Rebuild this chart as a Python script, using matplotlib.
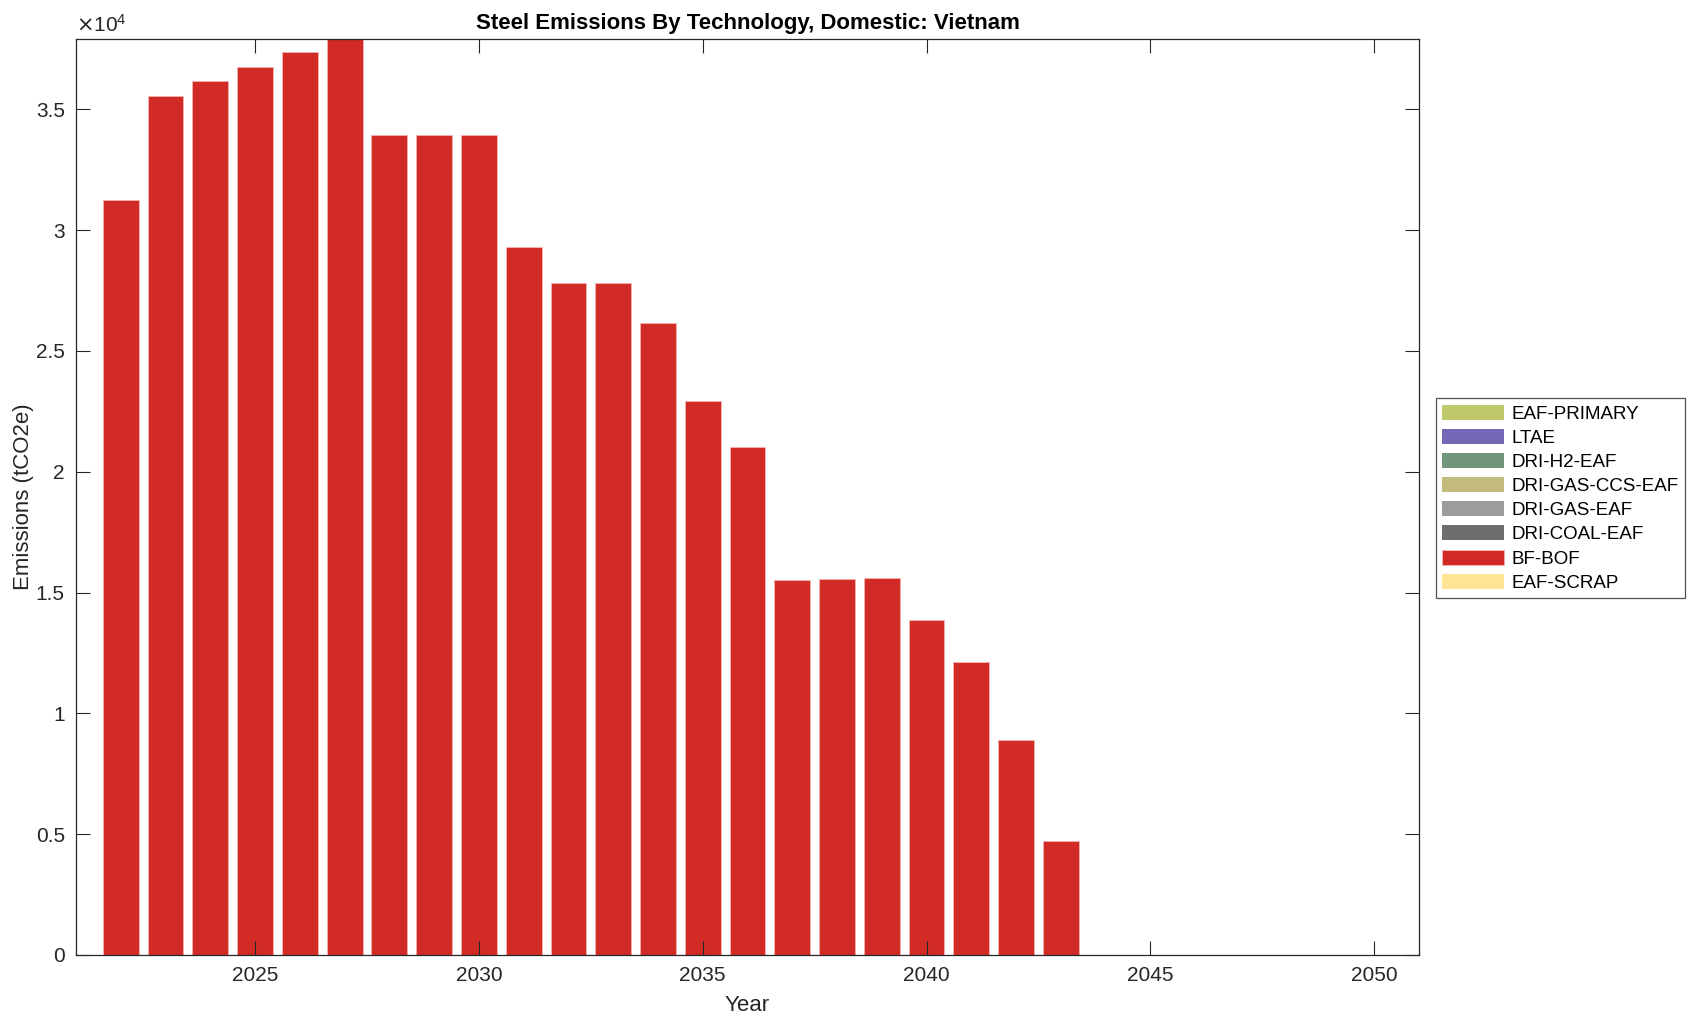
import matplotlib.pyplot as plt
from matplotlib.ticker import FuncFormatter, MultipleLocator
import numpy as np

plt.rcParams['font.family'] = ['Liberation Sans', 'DejaVu Sans']

# Years shown on the x axis
years = list(range(2022, 2051))

# Technologies (legend order, top to bottom)
techs = ["EAF-PRIMARY", "LTAE", "DRI-H2-EAF", "DRI-GAS-CCS-EAF",
         "DRI-GAS-EAF", "DRI-COAL-EAF", "BF-BOF", "EAF-SCRAP"]
colors = ["#BFC86A", "#7468B6", "#72967A", "#C3BA7E",
          "#9C9C9C", "#6E6E6E", "#D22B26", "#FFE494"]

# Emissions in tCO2e (only BF-BOF is non-zero)
bf_bof = [31240, 35540, 36160, 36750, 37370, 37910, 33930, 33930, 33930,
          29320, 27790, 27790, 26140, 22920, 21040, 15530, 15580, 15600,
          13870, 12130, 8910, 4700, 0, 0, 0, 0, 0, 0, 0]
zeros = [0] * len(years)
eaf_primary = zeros
ltae = zeros
dri_h2_eaf = zeros
dri_gas_ccs_eaf = zeros
dri_gas_eaf = zeros
dri_coal_eaf = zeros
eaf_scrap = zeros

series = {
    "EAF-PRIMARY": eaf_primary,
    "LTAE": ltae,
    "DRI-H2-EAF": dri_h2_eaf,
    "DRI-GAS-CCS-EAF": dri_gas_ccs_eaf,
    "DRI-GAS-EAF": dri_gas_eaf,
    "DRI-COAL-EAF": dri_coal_eaf,
    "BF-BOF": bf_bof,
    "EAF-SCRAP": eaf_scrap,
}

fig = plt.figure(figsize=(16.96, 10.23), dpi=100)
ax = fig.add_axes([0.0448, 0.0665, 0.7919, 0.8954])

# stack from the bottom (EAF-SCRAP) upward
bottom = np.zeros(len(years))
handles = {}
for name, col in reversed(list(zip(techs, colors))):
    vals = np.array(series[name], dtype=float)
    lw = 0.6 if vals.any() else 0
    h = ax.bar(years, vals, width=0.8, bottom=bottom, color=col,
               edgecolor='#F2B5B3', linewidth=lw)
    handles[name] = h
    bottom += vals

ax.set_xlim(2021, 2051)
ax.set_ylim(0, max(bf_bof))
ax.xaxis.set_major_locator(MultipleLocator(5))
ax.yaxis.set_major_locator(MultipleLocator(5000))
ax.yaxis.set_major_formatter(FuncFormatter(lambda v, p: f"{v/1e4:g}"))
ax.tick_params(direction='in', length=10, width=0.8, top=True, right=True,
               labelsize=15, colors='#262626', pad=8)
for s in ax.spines.values():
    s.set_color('#262626')
    s.set_linewidth(0.9)

ax.text(0, 1.003, r'$\times\mathregular{10^{4}}$', transform=ax.transAxes,
        fontsize=15, color='#262626', ha='left', va='bottom')

ax.set_title("Steel Emissions By Technology, Domestic: Vietnam",
             fontsize=16, fontweight='bold', pad=7)
ax.set_xlabel("Year", fontsize=16, color='#262626', labelpad=7)
ax.set_ylabel("Emissions (tCO2e)", fontsize=16, color='#262626', labelpad=1)

leg = fig.legend([handles[t] for t in techs], techs,
                 loc='center left', bbox_to_anchor=(0.8465, 0.513),
                 fontsize=13.5, frameon=True, fancybox=False, edgecolor='#262626',
                 handlelength=3.3, handleheight=0.85, labelspacing=0.33,
                 borderpad=0.35, handletextpad=0.4, borderaxespad=0)
leg.get_frame().set_linewidth(0.9)

fig.savefig("out.png", dpi=100)
